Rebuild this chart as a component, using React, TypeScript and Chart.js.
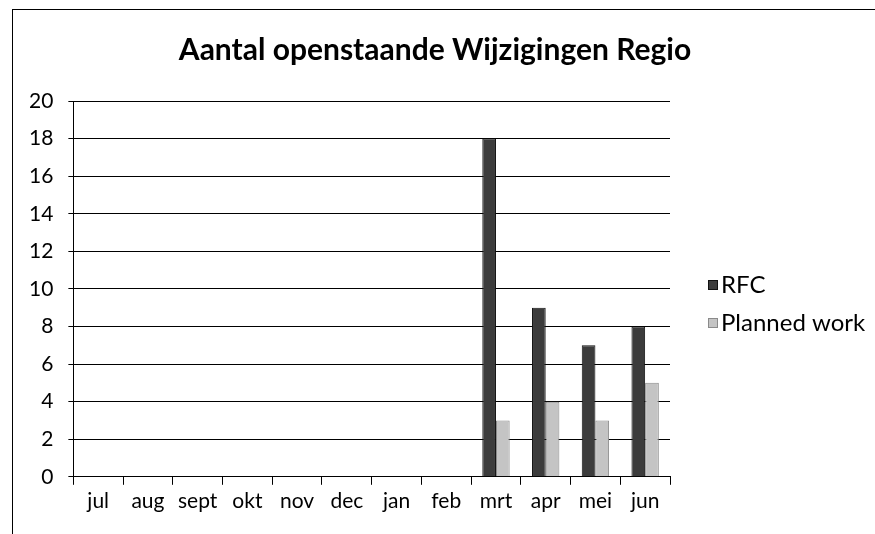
import React, { useEffect, useRef } from "react";
import { Chart, registerables } from "chart.js";

Chart.register(...registerables);

const categories = ["jul", "aug", "sept", "okt", "nov", "dec", "jan", "feb", "mrt", "apr", "mei", "jun"];
const rfcValues = [0, 0, 0, 0, 0, 0, 0, 0, 18, 9, 7, 8];
const plannedValues = [0, 0, 0, 0, 0, 0, 0, 0, 3, 4, 3, 5];
const seriesNames = ["RFC", "Planned work"];
const titleText = "Aantal openstaande Wijzigingen Regio";

const FONT = "Lato, 'Open Sans', sans-serif";

const decorations = {
  id: "decorations",
  afterDraw(chart: any) {
    const ctx = chart.ctx as CanvasRenderingContext2D;
    const area = chart.chartArea;
    ctx.save();
    // title
    ctx.font = `bold 30px ${FONT}`;
    ctx.fillStyle = "#000";
    ctx.textAlign = "center";
    ctx.textBaseline = "alphabetic";
    ctx.fillText(titleText, 435, 60);
    // legend
    const x = area.right + 38;
    const yStart = 285;
    const step = 38;
    ctx.font = `24px ${FONT}`;
    ctx.textBaseline = "middle";
    ctx.textAlign = "left";
    chart.data.datasets.forEach((ds: any, i: number) => {
      const y = yStart + i * step;
      ctx.fillStyle = ds.backgroundColor;
      ctx.fillRect(x, y - 5, 10, 10);
      ctx.strokeStyle = ds.borderColor;
      ctx.lineWidth = 1;
      ctx.strokeRect(x + 0.5, y - 4.5, 9, 9);
      ctx.fillStyle = "#000";
      ctx.fillText(ds.label, x + 13, y);
    });
    ctx.restore();
  },
};

export default function App() {
  const ref = useRef<HTMLCanvasElement | null>(null);

  useEffect(() => {
    document.body.style.margin = "0";
    const ctx = ref.current!.getContext("2d")!;
    const chart = new Chart(ctx, {
      type: "bar",
      data: {
        labels: categories,
        datasets: [
          {
            label: seriesNames[0],
            data: rfcValues,
            backgroundColor: "#3c3c3c",
            borderColor: "#111111",
            borderWidth: 1,
          },
          {
            label: seriesNames[1],
            data: plannedValues,
            backgroundColor: "#c4c4c4",
            borderColor: "#8a8a8a",
            borderWidth: 1,
          },
        ],
      },
      options: {
        animation: false,
        responsive: false,
        maintainAspectRatio: false,
        layout: { padding: { left: 14, right: 205, top: 101, bottom: 16 } },
        datasets: { bar: { categoryPercentage: 0.55, barPercentage: 1.0 } },
        plugins: {
          title: { display: false },
          legend: { display: false },
          tooltip: { enabled: false },
        },
        scales: {
          x: {
            offset: true,
            grid: {
              display: true,
              drawOnChartArea: false,
              drawTicks: true,
              tickLength: 8,
              offset: true,
              color: "#000",
            },
            border: { display: true, color: "#000", width: 1 },
            ticks: { color: "#000", font: { family: FONT, size: 21 }, padding: 4 },
          },
          y: {
            min: 0,
            max: 20,
            ticks: { stepSize: 2, color: "#000", font: { family: FONT, size: 21 }, padding: 15 },
            grid: { color: "#000", lineWidth: 1, tickLength: 5 },
            border: { display: true, color: "#000", width: 1 },
          },
        },
      },
      plugins: [decorations],
    });
    return () => chart.destroy();
  }, []);

  return (
    <div style={{ position: "absolute", left: 0, top: 0, width: 875, height: 534, background: "#fff" }}>
      <div
        style={{
          position: "absolute",
          left: 12,
          top: 9,
          width: 875,
          height: 534,
          borderLeft: "1px solid #000",
          borderTop: "1px solid #000",
        }}
      />
      <canvas ref={ref} width={875} height={534} style={{ position: "absolute", left: 0, top: 0 }} />
    </div>
  );
}
